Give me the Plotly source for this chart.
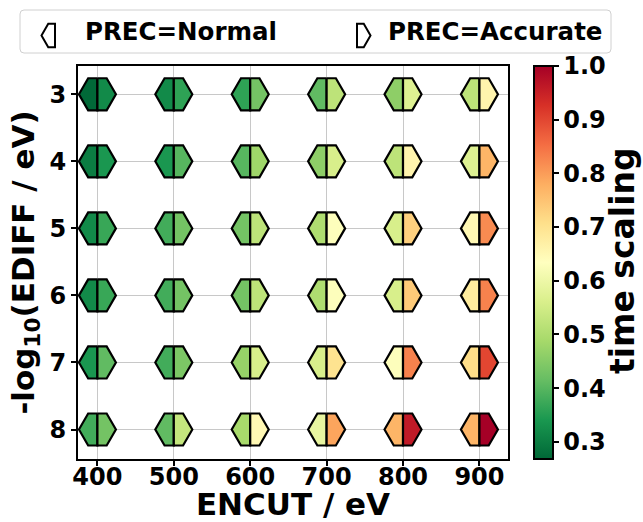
import math
import plotly.graph_objects as go
import plotly.express as px
from plotly.colors import sample_colorscale

# Plane-wave cutoff (columns) and -log10(EDIFF) (rows)
encut = [400, 500, 600, 700, 800, 900]
ediff_exp = [3, 4, 5, 6, 7, 8]

# Relative wall time, rows follow ediff_exp, columns follow encut
time_normal = [
    [0.27, 0.32, 0.36, 0.41, 0.46, 0.52],
    [0.30, 0.34, 0.40, 0.46, 0.52, 0.57],
    [0.32, 0.38, 0.43, 0.50, 0.56, 0.65],
    [0.32, 0.38, 0.43, 0.50, 0.56, 0.68],
    [0.34, 0.38, 0.47, 0.56, 0.63, 0.71],
    [0.38, 0.41, 0.49, 0.59, 0.77, 0.77],
]
time_accurate = [
    [0.32, 0.36, 0.43, 0.52, 0.57, 0.66],
    [0.34, 0.40, 0.48, 0.56, 0.66, 0.77],
    [0.37, 0.43, 0.52, 0.63, 0.73, 0.82],
    [0.37, 0.43, 0.52, 0.63, 0.74, 0.83],
    [0.41, 0.44, 0.56, 0.70, 0.83, 0.90],
    [0.43, 0.53, 0.65, 0.79, 0.96, 1.00],
]

cmin, cmax = 0.268, 1.0
cscale = px.colors.diverging.RdYlGn_r

# Figure / axes geometry
W, H = 643, 522
ML, MR, MT, MB = 78, 135, 66, 63
PW, PH = W - ML - MR, H - MT - MB
xrange_ = [374.6, 937.4]
yrange_ = [8.44, 2.578]
kx = PW / (xrange_[1] - xrange_[0])  # px per eV
ky = PH / (yrange_[0] - yrange_[1])  # px per unit

HEX_R = 18.5  # hexagon circumradius in px
rx = HEX_R / kx
hy = HEX_R * math.sqrt(3) / 2 / ky

FONT = "DejaVu Sans"


def half_hex(cx, cy, side):
    s = -1 if side == "left" else 1
    xs = [cx, cx + s * rx / 2, cx + s * rx, cx + s * rx / 2, cx, cx]
    ys = [cy - hy, cy - hy, cy, cy + hy, cy + hy, cy - hy]
    return xs, ys


def colour(v):
    t = (v - cmin) / (cmax - cmin)
    return sample_colorscale(cscale, [min(max(t, 0), 1)])[0]


fig = go.Figure()

# marker carrier for the colour bar (hidden under the hexagons)
fig.add_trace(go.Scatter(
    x=[e for _ in ediff_exp for e in encut],
    y=[d for d in ediff_exp for _ in encut],
    mode="markers",
    marker=dict(
        size=1,
        color=[v for row in time_accurate for v in row],
        colorscale="RdYlGn_r", cmin=cmin, cmax=cmax, showscale=True,
        colorbar=dict(
            x=(534.3 - ML) / PW, xanchor="left", xpad=0,
            y=0.5, yanchor="middle", len=1, lenmode="fraction", ypad=0,
            thickness=19, outlinewidth=2, outlinecolor="black",
            ticks="outside", ticklen=5, tickwidth=2, tickcolor="black",
            tickvals=[0.3, 0.4, 0.5, 0.6, 0.7, 0.8, 0.9, 1.0],
            tickformat=".1f",
            tickfont=dict(family=FONT, size=24, color="black", weight="bold"),
        ),
    ),
    hoverinfo="skip", showlegend=False,
))

for i, d in enumerate(ediff_exp):
    for j, e in enumerate(encut):
        for side, table in (("left", time_normal), ("right", time_accurate)):
            xs, ys = half_hex(e, d, side)
            fig.add_trace(go.Scatter(
                x=xs, y=ys, mode="lines", fill="toself",
                fillcolor=colour(table[i][j]),
                line=dict(color="black", width=2.2),
                hoverinfo="skip", showlegend=False,
            ))


def pxx(p):
    return (p - ML) / PW


def pxy(p):
    return (H - MB - p) / PH


# Legend frame and entries
shapes = []
bx0, bx1, by0, by1, rr = 20, 611, 10, 53, 4
frame = (
    f"M {pxx(bx0 + rr)},{pxy(by0)} L {pxx(bx1 - rr)},{pxy(by0)} "
    f"Q {pxx(bx1)},{pxy(by0)} {pxx(bx1)},{pxy(by0 + rr)} "
    f"L {pxx(bx1)},{pxy(by1 - rr)} Q {pxx(bx1)},{pxy(by1)} {pxx(bx1 - rr)},{pxy(by1)} "
    f"L {pxx(bx0 + rr)},{pxy(by1)} Q {pxx(bx0)},{pxy(by1)} {pxx(bx0)},{pxy(by1 - rr)} "
    f"L {pxx(bx0)},{pxy(by0 + rr)} Q {pxx(bx0)},{pxy(by0)} {pxx(bx0 + rr)},{pxy(by0)} Z"
)
shapes.append(dict(type="path", xref="paper", yref="paper", path=frame,
                   line=dict(color="#d0d0d0", width=1), fillcolor="white"))


def icon(cx, cy, side, r=13.5):
    s = -1 if side == "left" else 1
    h = r * math.sqrt(3) / 2
    pts = [(cx, cy - h), (cx + s * r / 2, cy - h), (cx + s * r, cy),
           (cx + s * r / 2, cy + h), (cx, cy + h)]
    return "M " + " L ".join(f"{pxx(a)},{pxy(b)}" for a, b in pts) + " Z"


shapes.append(dict(type="path", xref="paper", yref="paper", path=icon(55, 35.5, "left"),
                   line=dict(color="black", width=2), fillcolor="white"))
shapes.append(dict(type="path", xref="paper", yref="paper", path=icon(357, 35.5, "right"),
                   line=dict(color="black", width=2), fillcolor="white"))

legend_font = dict(family=FONT, size=24.5, color="black", weight="bold")
annotations = [
    dict(text="PREC=Normal", x=pxx(83), y=pxy(31), xref="paper", yref="paper",
         xanchor="left", yanchor="middle", showarrow=False, font=legend_font),
    dict(text="PREC=Accurate", x=pxx(386), y=pxy(31), xref="paper", yref="paper",
         xanchor="left", yanchor="middle", showarrow=False, font=legend_font),
    # colour bar title
    dict(text="time scaling", x=pxx(622), y=pxy(261), xref="paper", yref="paper",
         xanchor="center", yanchor="middle", textangle=-90, showarrow=False,
         font=dict(family=FONT, size=33, color="black", weight="bold")),
]

axis_common = dict(
    showline=True, mirror=True, linecolor="black", linewidth=2,
    ticks="outside", ticklen=5, tickwidth=2, tickcolor="black",
    showgrid=True, gridcolor="#c8c8c8", gridwidth=1, zeroline=False,
    tickfont=dict(family=FONT, size=24, color="black", weight="bold"),
)

fig.update_layout(
    width=W, height=H,
    margin=dict(l=ML, r=MR, t=MT, b=MB, autoexpand=False),
    paper_bgcolor="white", plot_bgcolor="white",
    xaxis=dict(range=xrange_, tickvals=encut, ticklabelstandoff=-10, **axis_common,
               title=dict(text="ENCUT / eV", standoff=14,
                          font=dict(family=FONT, size=31, color="black", weight="bold"))),
    yaxis=dict(range=yrange_, tickvals=ediff_exp, **axis_common,
               title=dict(text="-log<sub>10</sub>(EDIFF / eV)", standoff=6,
                          font=dict(family=FONT, size=31, color="black", weight="bold"))),
    shapes=shapes,
    annotations=annotations,
    showlegend=False,
)

fig.write_html("out.html")
